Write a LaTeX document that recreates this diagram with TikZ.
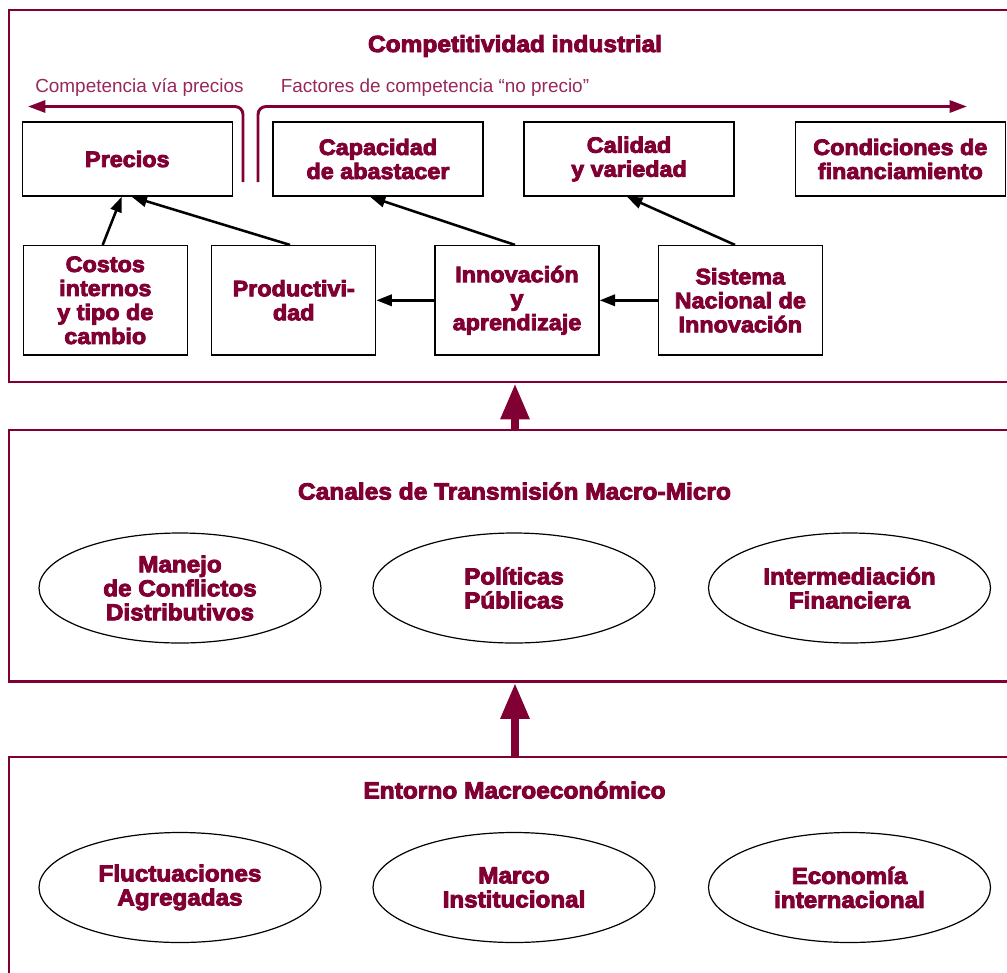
\documentclass[tikz,border=0pt]{standalone}
\usepackage{fontspec}
\setmainfont{Liberation Sans}
\newfontfamily\hv{Liberation Sans Bold}[FakeStretch=1.05,FakeBold=4]
\usetikzlibrary{arrows.meta,shapes.geometric,calc}
\definecolor{mar}{RGB}{128,0,52}
\definecolor{marl}{RGB}{150,40,90}
\begin{document}
\begin{tikzpicture}[x=0.75pt,y=-0.75pt,
  frame/.style={draw=mar,line width=2.2pt,minimum width=765.75pt,inner sep=0pt},
  ttl/.style={anchor=base,text=mar,font=\hv\fontsize{17.5}{18}\selectfont,inner sep=0pt},
  lbl/.style={anchor=base west,text=marl,font=\fontsize{14.2}{16}\selectfont,inner sep=0pt},
  boxA/.style={draw=black,line width=1.1pt,minimum width=157.5pt,minimum height=55.5pt,inner sep=0pt,align=center,text=mar,font=\hv\fontsize{16.7}{18}\selectfont},
  boxB/.style={boxA,minimum width=123pt,minimum height=82pt},
  ell/.style={draw=black,line width=0.9pt,ellipse,minimum width=211.5pt,minimum height=82.5pt,inner sep=0pt,align=center,text=mar,font=\hv\fontsize{17.3}{18}\selectfont},
  arr/.style={draw=black,line width=1.9pt,-{Triangle[length=11.5pt,width=8.5pt]}},
  brk/.style={draw=mar,line width=2.2pt,rounded corners=6pt,-{Triangle[length=13pt,width=9pt]}},
  big/.style={draw=mar,line width=6pt,-{Triangle[length=27pt,width=20.5pt]}}
]
\useasboundingbox (0,0) rectangle (1007,972);

% frames
\node[frame,minimum height=279pt] (f1) at (519.5,196) {};
\node[frame,minimum height=188.6pt] (f2) at (519.5,555.75) {};
\node[frame,minimum height=182.25pt] (f3) at (519.5,878.5) {};

% titles
\node[ttl] (t1) at (515,52) {Competitividad industrial};
\node[ttl] (t2) at (514.5,499.5) {Canales de Transmisión Macro-Micro};
\node[ttl] (t3) at (514.5,798.5) {Entorno Macroeconómico};

% light labels
\node[lbl] (l1) at (35,92) {Competencia vía precios};
\node[lbl] (l2) at (280.5,92) {Factores de competencia “no precio”};

% brackets
\coordinate (lb) at (243,182);
\coordinate (lt) at (28,106.5);
\coordinate (rb) at (258,182);
\coordinate (rt) at (967,106.5);
\draw[brk] (lb) |- (lt);
\draw[brk] (rb) |- (rt);

% top row
\node[boxA] (precios) at (127.3,159) {Precios};
\node[boxA] (capac) at (378,159) {Capacidad\\de abastacer};
\node[boxA] (calid) at (629,159) {Calidad\\y variedad};
\node[boxA] (cond) at (900.3,159) {Condiciones de\\financiamiento};

% bottom row
\node[boxB] (costos) at (105.3,300.3) {Costos\\internos\\y tipo de\\cambio};
\node[boxB] (prod) at (293.7,300.3) {Productivi-\\dad};
\node[boxB] (innov) at (517,300.3) {Innovación\\y\\aprendizaje};
\node[boxB] (sist) at (740.3,300.3) {Sistema\\Nacional de\\Innovación};

% arrows
\draw[arr] ($(costos.north)+(-2.6,0)$) -- ($(precios.south)+(-5.6,0)$);
\draw[arr] ($(prod.north)+(-3.7,0)$) -- ($(precios.south)+(4.4,0)$);
\draw[arr] ($(innov.north)+(-2,0)$) -- ($(capac.south)+(-8,0)$);
\draw[arr] ($(sist.north)+(-5.3,0)$) -- ($(calid.south)+(-2,0)$);
\draw[arr] (innov.west) -- (prod.east);
\draw[arr] (sist.west) -- (innov.east);

% ellipses middle
\node[ell] (e1) at (180,588) {Manejo\\de Conflictos\\Distributivos};
\node[ell] (e2) at (514,588) {Políticas\\Públicas};
\node[ell] (e3) at (849.5,588) {Intermediación\\Financiera};

% ellipses bottom
\node[ell] (e4) at (180,887.5) {Fluctuaciones\\Agregadas};
\node[ell] (e5) at (514,887.5) {Marco\\Institucional};
\node[ell] (e6) at (849.5,887.5) {Economía\\internacional};

% big arrows
\draw[big] ($(f2.north)+(-4.5,0)$) -- ($(f1.south)+(-4.5,0)$);
\draw[big] ($(f3.north)+(-4.5,0)$) -- ($(f2.south)+(-4.5,0)$);
\end{tikzpicture}
\end{document}
